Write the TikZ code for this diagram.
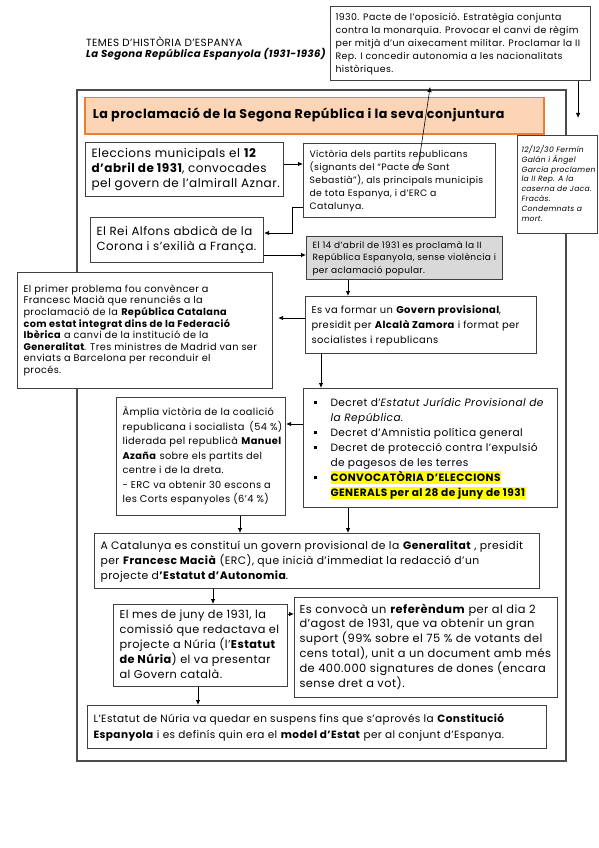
\documentclass[tikz,border=0pt]{standalone}
\usepackage{fontspec}
\setmainfont{Poppins}[LetterSpace=4]
\usetikzlibrary{arrows.meta,calc}
\definecolor{boxline}{HTML}{404040}
\definecolor{orangeline}{HTML}{ED7D31}
\definecolor{orangefill}{HTML}{FBD5B5}
\definecolor{grayfill}{HTML}{D9D9D9}
\definecolor{hly}{HTML}{FFFF00}
\newcommand{\hlt}[1]{{\setlength{\fboxsep}{0pt}\colorbox{hly}{\rule[-3.4pt]{0pt}{12.8pt}#1}}}
\newcommand{\bsq}{\makebox[23pt][l]{\hspace{6pt}\rule[1.8pt]{3.2pt}{3.2pt}}}
\newcommand{\lines}[2]{\makebox[#1][l]{\begin{tabular}{@{}l@{}}#2\end{tabular}}}
\begin{document}
\begin{tikzpicture}[x=1pt,y=-1pt,
 mybox/.style={draw=boxline, line width=1.1pt, fill=white, anchor=north west, inner xsep=6pt, inner ysep=0pt},
 arr/.style={-{Latex[length=5pt,width=4.5pt]}, line width=0.8pt},
]
\useasboundingbox (0,0) rectangle (599,848);

% header
\node[anchor=base west, inner sep=0, font=\fontsize{10.4}{11}\selectfont] (h1) at (86,47) {TEMES D’HISTÒRIA D’ESPANYA};
\node[anchor=base west, inner sep=0, font=\fontsize{10.1}{11}\selectfont\bfseries\itshape] (h2) at (86,57.5) {La Segona República Espanyola (1931-1936)};

% outer frame
\node[draw=black!70, line width=1.8pt, anchor=north west, minimum width=489pt, minimum height=671pt, inner sep=0] (outerframe) at (76,89) {};

% top note
\node[mybox, inner xsep=5pt, minimum width=260pt, minimum height=74pt, font=\fontsize{9.4}{13}\selectfont] (n1930) at (330,6) {\lines{250pt}{1930. Pacte de l’oposició. Estratègia conjunta\\ contra la monarquia. Provocar el canvi de règim\\ per mitjà d’un aixecament militar. Proclamar la II\\ Rep. I concedir autonomia a les nacionalitats\\ històriques.}};

% title
\node[anchor=north west, draw=orangeline, fill=orangefill, line width=1.5pt, minimum width=459pt, minimum height=36pt, inner xsep=8pt, font=\fontsize{12.7}{14}\selectfont\bfseries] (title) at (84,97) {\lines{443pt}{La proclamació de la Segona República i la seva conjuntura}};

% side note
\node[mybox, inner xsep=4pt, minimum width=80pt, minimum height=98pt, font=\fontsize{7.6}{9.8}\selectfont\itshape] (nfermin) at (517,135) {\lines{72pt}{12/12/30 Fermín\\ Galán i Ángel\\ García proclamen\\ la II Rep. A la\\ caserna de Jaca.\\ Fracàs.\\ Condemnats a\\ mort.}};

% boxes
\node[mybox, minimum width=198pt, minimum height=54pt, font=\fontsize{12}{15}\selectfont] (nA) at (85,142) {\lines{186pt}{Eleccions municipals el \textbf{12}\\ \textbf{d’abril de 1931}, convocades\\ pel govern de l’almirall Aznar.}};

\node[mybox, minimum width=192pt, minimum height=74pt, font=\fontsize{9.3}{13}\selectfont] (nB) at (303,143) {\lines{180pt}{Victòria dels partits republicans\\ (signants del “Pacte de Sant\\ Sebastià”), als principals municipis\\ de tota Espanya, i d’ERC a\\ Catalunya.}};

\node[mybox, minimum width=173pt, minimum height=45pt, font=\fontsize{11.8}{15}\selectfont] (nC) at (90,217) {\lines{161pt}{El Rei Alfons abdicà de la\\ Corona i s’exilià a França.}};

\node[mybox, fill=grayfill, minimum width=196pt, minimum height=43pt, font=\fontsize{9}{12.5}\selectfont] (nD) at (306,236) {\lines{184pt}{El 14 d’abril de 1931 es proclamà la II\\ República Espanyola, sense violència i\\ per aclamació popular.}};

\node[mybox, minimum width=255pt, minimum height=116pt, font=\fontsize{9.7}{11.6}\selectfont] (nE) at (17,272) {\lines{243pt}{El primer problema fou convèncer a\\ Francesc Macià que renunciés a la\\ proclamació de la \textbf{República Catalana}\\ \textbf{com estat integrat dins de la Federació}\\ \textbf{Ibèrica} a canvi de la institució de la\\ \textbf{Generalitat}. Tres ministres de Madrid van ser\\ enviats a Barcelona per reconduir el\\ procés.}};

\node[mybox, minimum width=231pt, minimum height=57pt, font=\fontsize{9.9}{15}\selectfont] (nF) at (305,296) {\lines{219pt}{Es va formar un \textbf{Govern provisional},\\ presidit per \textbf{Alcalà Zamora} i format per\\ socialistes i republicans}};

\node[mybox, minimum width=169pt, minimum height=118pt, font=\fontsize{9.8}{14.5}\selectfont] (nG) at (116,397) {\lines{157pt}{Àmplia victòria de la coalició\\ republicana i socialista\hspace{2pt} (54 \%)\\ liderada pel republicà \textbf{Manuel}\\ \textbf{Azaña} sobre els partits del\\ centre i de la dreta.\\ - ERC va obtenir 30 escons a\\ les Corts espanyoles (6’4 \%)}};

\node[mybox, inner xsep=4pt, minimum width=254pt, minimum height=119pt, font=\fontsize{10.6}{15}\selectfont] (nH) at (303,388) {\makebox[246pt][l]{\begin{tabular}{@{}l@{}l@{}}
\bsq & Decret d’\textit{Estatut Jurídic Provisional de}\\
 & \textit{la República.}\\
\bsq & Decret d’Amnistia política general\\
\bsq & Decret de protecció contra l’expulsió\\
 & de pagesos de les terres\\
\bsq & \hlt{\textbf{CONVOCATÒRIA D’ELECCIONS}}\\
 & \hlt{\textbf{GENERALS per al 28 de juny de 1931}}
\end{tabular}}};

\node[mybox, minimum width=445pt, minimum height=55pt, font=\fontsize{10.8}{15}\selectfont] (nI) at (94,533) {\lines{433pt}{A Catalunya es constituí un govern provisional de la \textbf{Generalitat} , presidit\\ per \textbf{Francesc Macià} (ERC), que inicià d’immediat la redacció d’un\\ projecte d\textbf{’Estatut d’Autonomia}.}};

\node[mybox, minimum width=174pt, minimum height=82pt, font=\fontsize{11.3}{15}\selectfont] (nJ) at (113,604) {\lines{162pt}{El mes de juny de 1931, la\\ comissió que redactava el\\ projecte a Núria (l’\textbf{Estatut}\\ \textbf{de Núria}) el va presentar\\ al Govern català.}};

\node[mybox, inner xsep=5pt, minimum width=263pt, minimum height=100pt, font=\fontsize{11.4}{14.5}\selectfont] (nK) at (294,597) {\lines{253pt}{Es convocà un \textbf{referèndum} per al dia 2\\ d’agost de 1931, que va obtenir un gran\\ suport (99\% sobre el 75 \% de votants del\\ cens total), unit a un document amb més\\ de 400.000 signatures de dones (encara\\ sense dret a vot).}};

\node[mybox, minimum width=459pt, minimum height=43pt, font=\fontsize{10.5}{16}\selectfont] (nL) at (87,705) {\lines{447pt}{L’Estatut de Núria va quedar en suspens fins que s’aprovés la \textbf{Constitució}\\ \textbf{Espanyola} i es definís quin era el \textbf{model d’Estat} per al conjunt d’Espanya.}};

% helper coordinates
\coordinate (ya) at (0,164);
\coordinate (yb) at (0,207);
\coordinate (yc) at (0,233);
\coordinate (yd) at (0,255);
\coordinate (ye) at (0,318);
\coordinate (yh) at (0,424);
\coordinate (yk) at (0,614);
\coordinate (xd) at (348,0);
\coordinate (xf) at (321,0);
\coordinate (xg) at (240,0);
\coordinate (xi) at (213,0);
\coordinate (xj) at (198,0);
\coordinate (xv) at (431,0);
\coordinate (vs) at (418,168);

% connectors
\draw[arr, shorten >=17pt] ([xshift=-13pt]n1930.south east) -- ([xshift=-13pt]n1930.south east |- nfermin.north);
\draw[arr, line width=0.6pt, shorten >=6pt] (vs) -- (xv |- n1930.south);
\draw[arr] (nA.east |- ya) -- (nB.west |- ya);
\draw[arr] (nB.west |- yb) -- ++(-11,0) |- (nC.east |- yc);
\draw[arr] (nC.east |- yd) -- (nD.west |- yd);
\draw[arr] (nD.south -| xd) -- (nF.north -| xd);
\draw[arr, shorten >=5pt] (nF.west |- ye) -- (nE.east |- ye);
\draw[arr] (nF.south -| xf) -- (nH.north -| xf);
\draw[arr] (nH.west |- yh) -- (nG.east |- yh);
\draw[arr] (nG.south -| xg) -- (nI.north -| xg);
\draw[arr] (nH.south -| xd) -- (nI.north -| xd);
\draw[arr] (nI.south -| xi) -- (nJ.north -| xi);
\draw[arr] (nJ.east |- yk) -- (nK.west |- yk);
\draw[arr] (nJ.south -| xj) -- (nL.north -| xj);
\end{tikzpicture}
\end{document}
